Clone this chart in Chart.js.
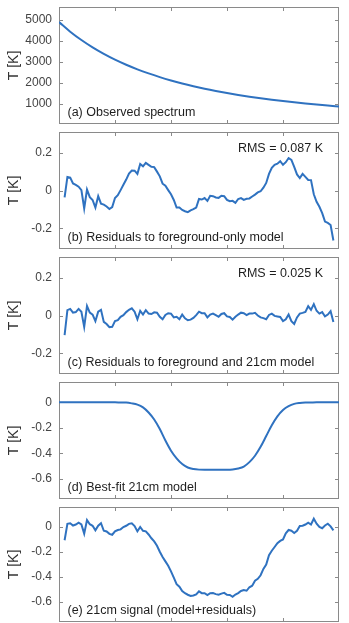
<!DOCTYPE html>
<html>
<head>
<meta charset="utf-8">
<script src="https://cdn.jsdelivr.net/npm/chart.js@4.4.1/dist/chart.umd.min.js"></script>
<style>
  body { margin: 0; background: #fff; }
  canvas { position: absolute; left: 0; }
</style>
</head>
<body>
<canvas id="pa" width="349" height="125" style="top:0"></canvas>
<canvas id="pb" width="349" height="125" style="top:125px"></canvas>
<canvas id="pc" width="349" height="125" style="top:250px"></canvas>
<canvas id="pd" width="349" height="125" style="top:375px"></canvas>
<canvas id="pe" width="349" height="123" style="top:500px"></canvas>
<script>
// frequency axis (MHz), ticks only, no labels in the figure
const xTicks = [60, 70, 80, 90];

// (a) observed spectrum, every 2 MHz
const specFreq = [50, 52, 54, 56, 58, 60, 62, 64, 66, 68, 70, 72, 74, 76, 78, 80,
  82, 84, 86, 88, 90, 92, 94, 96, 98, 100];
const specT = [4900, 4442, 4043, 3691, 3381, 3106, 2862, 2643, 2448, 2272, 2113, 1969,
  1839, 1720, 1612, 1513, 1422, 1339, 1263, 1192, 1127, 1067, 1011, 959, 911, 866];

// channels for the residual panels
const chanFreq = [51, 51.5, 52, 52.5, 53, 53.5, 54, 54.5, 55, 55.5,
  56, 56.5, 57, 57.5, 58, 58.5, 59, 59.5, 60, 60.5,
  61, 61.5, 62, 62.5, 63, 63.5, 64, 64.5, 65, 65.5,
  66, 66.5, 67, 67.5, 68, 68.5, 69, 69.5, 70, 70.5,
  71, 71.5, 72, 72.5, 73, 73.5, 74, 74.5, 75, 75.5,
  76, 76.5, 77, 77.5, 78, 78.5, 79, 79.5, 80, 80.5,
  81, 81.5, 82, 82.5, 83, 83.5, 84, 84.5, 85, 85.5,
  86, 86.5, 87, 87.5, 88, 88.5, 89, 89.5, 90, 90.5,
  91, 91.5, 92, 92.5, 93, 93.5, 94, 94.5, 95, 95.5,
  96, 96.5, 97, 97.5, 98, 98.5, 99];

// (b) residuals to foreground-only model
const resFgOnly = [-0.037, 0.072, 0.068, 0.037, 0.03, 0.02, 0.002, -0.095, 0.005, -0.035,
  -0.05, -0.09, -0.03, -0.07, -0.075, -0.085, -0.098, -0.088, -0.04, -0.025,
  0.002, 0.03, 0.058, 0.09, 0.106, 0.105, 0.088, 0.14, 0.128, 0.146,
  0.136, 0.126, 0.124, 0.1, 0.075, 0.036, 0.025, 0.002, -0.02, -0.05,
  -0.09, -0.09, -0.103, -0.11, -0.115, -0.105, -0.099, -0.09, -0.045, -0.048,
  -0.04, -0.055, -0.028, -0.03, -0.037, -0.039, -0.028, -0.03, -0.05, -0.057,
  -0.055, -0.065, -0.045, -0.04, -0.05, -0.044, -0.042, -0.032, -0.022, -0.01,
  -0.004, 0.015, 0.04, 0.088, 0.12, 0.136, 0.142, 0.155, 0.136, 0.15,
  0.172, 0.162, 0.125, 0.085, 0.066, 0.088, 0.072, 0.056, 0.055, -0.02,
  -0.06, -0.086, -0.12, -0.165, -0.172, -0.183, -0.265];

// (c) residuals to foreground and 21cm model
const resFg21 = [-0.104, 0.028, 0.035, 0.015, 0.018, 0.035, 0.02, -0.06, 0.05, 0.015,
  0.005, -0.03, 0.02, 0.03, -0.034, -0.045, -0.062, -0.06, -0.03, -0.025,
  -0.007, 0.002, 0.018, 0.03, 0.038, 0.02, -0.02, 0.025, 0.005, 0.028,
  0.01, 0.008, 0.017, 0.015, -0.007, -0.02, 0.003, 0.012, 0.01, -0.01,
  -0.007, -0.02, 0.005, -0.015, -0.025, -0.022, -0.013, 0.002, 0.02, 0.012,
  0.012, -0.01, 0.005, 0.01, 0.002, -0.007, 0.008, 0.012, -0.005, -0.008,
  -0.022, -0.007, 0.005, 0.015, 0.012, 0.002, 0.01, 0.01, 0.014, 0.0,
  -0.01, -0.014, -0.02, 0.003, 0.01, -0.002, -0.005, -0.008, -0.03, -0.02,
  0.005, -0.03, -0.045, -0.01, 0.01, 0.014, 0.019, 0.05, 0.03, 0.06,
  0.025, 0.01, 0.018, -0.005, 0.005, 0.023, -0.034];

// (d) best-fit 21cm model, every 1 MHz
const modelFreq = [50, 51, 52, 53, 54, 55, 56, 57, 58, 59, 60, 61, 62, 63, 64, 65, 66,
  67, 68, 69, 70, 71, 72, 73, 74, 75, 76, 77, 78, 79, 80, 81, 82, 83, 84, 85, 86, 87,
  88, 89, 90, 91, 92, 93, 94, 95, 96, 97, 98, 99, 100];
const model21 = [0, 0, 0, 0, 0, 0, 0, 0, 0, 0,
  0, -0.001, -0.002, -0.008, -0.018, -0.04, -0.08, -0.135, -0.21, -0.3,
  -0.38, -0.44, -0.485, -0.512, -0.524, -0.529, -0.53, -0.53, -0.53, -0.53,
  -0.53, -0.528, -0.52, -0.505, -0.47, -0.42, -0.35, -0.265, -0.18, -0.11,
  -0.06, -0.03, -0.012, -0.005, -0.002, -0.001, 0, 0, 0, 0, 0];

// (e) 21cm signal (model + residuals)
const signal21 = [-0.106, 0.026, 0.03, 0.012, 0.02, 0.034, 0.02, -0.053, 0.055, 0.022,
  0.01, -0.027, 0.01, 0.03, -0.03, -0.036, -0.055, -0.062, -0.035, -0.024,
  -0.019, 0.0, 0.01, 0.025, 0.03, 0.008, -0.035, 0.0, -0.03, -0.035,
  -0.06, -0.09, -0.115, -0.15, -0.198, -0.24, -0.275, -0.31, -0.355, -0.405,
  -0.457, -0.478, -0.512, -0.53, -0.542, -0.552, -0.548, -0.54, -0.515, -0.529,
  -0.529, -0.545, -0.53, -0.529, -0.537, -0.542, -0.533, -0.527, -0.542, -0.544,
  -0.558, -0.54, -0.529, -0.512, -0.505, -0.51, -0.482, -0.47, -0.43, -0.415,
  -0.386, -0.335, -0.3, -0.225, -0.19, -0.16, -0.13, -0.111, -0.1, -0.05,
  -0.024, -0.03, -0.048, -0.03, 0.008, 0.01, 0.02, 0.035, 0.02, 0.066,
  0.026, 0.0, -0.01, 0.012, 0.026, 0.005, -0.027];

const spectrumTicks = [1000, 2000, 3000, 4000, 5000];
const residualTicks = [-0.2, 0, 0.2];
const signalTicks = [-0.6, -0.4, -0.2, 0];

const FONT = '"Liberation Sans", Arial, Helvetica, sans-serif';
const LINE = '#2f72c0';

// box + inward tick marks, and the in-panel captions
const framePlugin = {
  id: 'frame',
  beforeDatasetsDraw(chart) {
    const { ctx, chartArea: a, scales: { x, y } } = chart;
    const L = Math.round(a.left) + 0.5, R = Math.round(a.right) - 0.5;
    const T = Math.round(a.top) + 0.5, B = Math.round(a.bottom) - 0.5;
    ctx.save();
    ctx.strokeStyle = '#8a8a8a';
    ctx.lineWidth = 1;
    ctx.strokeRect(L, T, R - L, B - T);
    ctx.beginPath();
    xTicks.forEach(v => {
      const px = Math.round(x.getPixelForValue(v)) + 0.5;
      ctx.moveTo(px, B); ctx.lineTo(px, B - 3.5);
      ctx.moveTo(px, T); ctx.lineTo(px, T + 3.5);
    });
    y.ticks.forEach(t => {
      const py = Math.round(y.getPixelForValue(t.value)) + 0.5;
      ctx.moveTo(L, py); ctx.lineTo(L + 3.5, py);
      ctx.moveTo(R, py); ctx.lineTo(R - 3.5, py);
    });
    ctx.stroke();

    const opts = chart.options.plugins.frame;
    ctx.fillStyle = '#1e1e1e';
    ctx.font = '12.5px ' + FONT;
    ctx.textBaseline = 'alphabetic';
    ctx.textAlign = 'left';
    ctx.fillText(opts.label, a.left + 8.5, a.bottom - 8.5);
    if (opts.rms) {
      ctx.textAlign = 'right';
      ctx.fillText(opts.rms, a.right - 16, a.top + 20);
    }
    ctx.restore();
  }
};

function makePanel(id, xs, ys, yMin, yMax, yTicks, label, rms, smooth) {
  return new Chart(document.getElementById(id), {
    type: 'line',
    data: {
      datasets: [{
        data: xs.map((x, i) => ({ x: x, y: ys[i] })),
        borderColor: LINE,
        borderWidth: 2,
        pointRadius: 0,
        fill: false,
        tension: 0,
        cubicInterpolationMode: smooth ? 'monotone' : 'default'
      }]
    },
    options: {
      responsive: false,
      animation: false,
      events: [],
      layout: { padding: { top: 7, bottom: 1, left: 0, right: 10 } },
      plugins: {
        legend: { display: false },
        tooltip: { enabled: false },
        frame: { label: label, rms: rms }
      },
      scales: {
        x: {
          type: 'linear', min: 50, max: 100,
          ticks: { display: false },
          grid: { display: false, drawTicks: false },
          border: { display: false },
          afterFit: s => { s.height = 0; s.paddingLeft = 0; s.paddingRight = 0; }
        },
        y: {
          min: yMin, max: yMax,
          afterBuildTicks: s => { s.ticks = yTicks.map(v => ({ value: v })); },
          // fixed axis width; labels may sit near the box edges without extra padding
          afterFit: s => { s.width = 59; s.paddingTop = 0; s.paddingBottom = 0; },
          ticks: {
            color: '#444',
            font: { family: FONT, size: 12 },
            padding: 7,
            callback: v => String(v)
          },
          grid: { display: false, drawTicks: false },
          border: { display: false },
          title: {
            display: true,
            text: 'T [K]',
            color: '#333',
            font: { family: FONT, size: 14 },
            padding: { top: 6, bottom: 0 }
          }
        }
      }
    },
    plugins: [framePlugin]
  });
}

makePanel('pa', specFreq, specT, 33, 5620, spectrumTicks, '(a) Observed spectrum', null, true);
makePanel('pb', chanFreq, resFgOnly, -0.31, 0.31, residualTicks, '(b) Residuals to foreground-only model', 'RMS = 0.087 K', false);
makePanel('pc', chanFreq, resFg21, -0.31, 0.31, residualTicks, '(c) Residuals to foreground and 21cm model', 'RMS = 0.025 K', false);
makePanel('pd', modelFreq, model21, -0.76, 0.16, signalTicks, '(d) Best-fit 21cm model', null, true);
makePanel('pe', chanFreq, signal21, -0.76, 0.16, signalTicks, '(e) 21cm signal (model+residuals)', null, false);
</script>
</body>
</html>
